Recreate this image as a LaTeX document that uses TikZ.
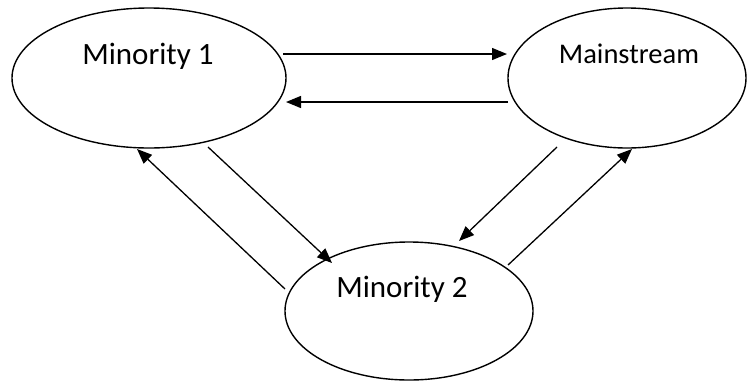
\documentclass[tikz,border=0pt]{standalone}
\usepackage{fontspec}
\setmainfont{Carlito}
\usetikzlibrary{shapes.geometric,arrows.meta}
\begin{document}
\begin{tikzpicture}[x=1bp,y=-1bp,
  oval/.style={draw,line width=1.4bp,ellipse,inner sep=0pt},
  lbl/.style={inner sep=0pt,font=\fontsize{31bp}{36bp}\selectfont},
  lblsmall/.style={inner sep=0pt,font=\fontsize{28.5bp}{34bp}\selectfont},
  conn/.style={line width=1.3bp,-{Triangle[length=15bp,width=12bp]}}]
\useasboundingbox (0,0) rectangle (747,381);
\node[oval,minimum width=274bp,minimum height=140bp] (m1) at (149,78) {};
\node[oval,minimum width=238bp,minimum height=140bp] (ms) at (627,78) {};
\node[oval,minimum width=248bp,minimum height=138bp] (m2) at (409,311) {};
\node[lbl] (m1t) at (148,56) {Minority 1};
\node[lblsmall] (mst) at (629,54) {Mainstream};
\node[lbl] (m2t) at (402,289) {Minority 2};
\coordinate (a1s) at (283,54);
\coordinate (a1e) at (507,54);
\coordinate (a2s) at (508,102);
\coordinate (a2e) at (286,102);
\coordinate (a3s) at (208,147);
\coordinate (a3e) at (332,263);
\coordinate (a4s) at (285,289);
\coordinate (a4e) at (137,149);
\coordinate (a5s) at (557,147);
\coordinate (a5e) at (459,241);
\coordinate (a6s) at (508,265);
\coordinate (a6e) at (632,149);
\draw[conn] (a1s) -- (a1e);
\draw[conn] (a2s) -- (a2e);
\draw[conn] (a3s) -- (a3e);
\draw[conn] (a4s) -- (a4e);
\draw[conn] (a5s) -- (a5e);
\draw[conn] (a6s) -- (a6e);
\end{tikzpicture}
\end{document}
